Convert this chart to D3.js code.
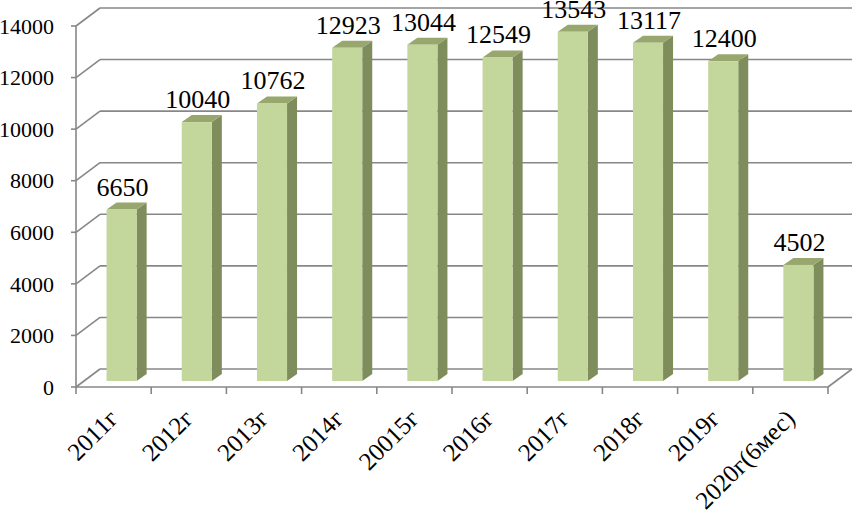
<!DOCTYPE html>
<html>
<head>
<meta charset="utf-8">
<script src="https://cdnjs.cloudflare.com/ajax/libs/d3/7.8.5/d3.min.js"></script>
<style>
  body { margin: 0; background: #fff; }
  svg { display: block; }
  svg text { font-family: 'Liberation Serif', 'DejaVu Serif', serif; }
</style>
</head>
<body>
<div id="chart"></div>
<script>
var categories = ['2011г', '2012г', '2013г', '2014г', '20015г', '2016г', '2017г', '2018г', '2019г', '2020г(6мес)'];
var values = [6650, 10040, 10762, 12923, 13044, 12549, 13543, 13117, 12400, 4502];
var yTicks = [0, 2000, 4000, 6000, 8000, 10000, 12000, 14000];

var chartW = 860, chartH = 517;
var plotLeft = 76, plotRight = 828, plotBottom = 387, plotTop = 26;
// 3d offsets: back wall, bar front plane, bar depth
var wallDx = 24, wallDy = -18;
var barDx = 8, barDy = -6;
var depthDx = 10, depthDy = -7;

var svg = d3.select('#chart').append('svg')
  .attr('width', chartW)
  .attr('height', chartH)
  .attr('font-family', 'Liberation Serif, serif');

var x = d3.scaleBand().domain(categories).range([plotLeft, plotRight]);
var y = d3.scaleLinear().domain([0, 14000]).range([plotBottom, plotTop]);

var gridColor = '#878787';

// back wall gridlines + diagonal side lines
var grid = svg.append('g');
yTicks.forEach(function (t) {
  grid.append('line')
    .attr('x1', plotLeft + wallDx).attr('x2', plotRight + wallDx)
    .attr('y1', y(t) + wallDy).attr('y2', y(t) + wallDy)
    .attr('stroke', gridColor).attr('stroke-width', 1.6);
  grid.append('line')
    .attr('x1', plotLeft).attr('x2', plotLeft + wallDx)
    .attr('y1', y(t)).attr('y2', y(t) + wallDy)
    .attr('stroke', gridColor).attr('stroke-width', 1.6);
});
// floor right edge
grid.append('line')
  .attr('x1', plotRight).attr('x2', plotRight + wallDx)
  .attr('y1', plotBottom).attr('y2', plotBottom + wallDy)
  .attr('stroke', gridColor).attr('stroke-width', 1.6);

// bars
var bw = x.bandwidth() * 0.4;
var bars = svg.append('g').selectAll('g').data(values).enter().append('g');
bars.each(function (v, i) {
  var g = d3.select(this);
  var x0 = x(categories[i]) + (x.bandwidth() - bw) / 2 + barDx;
  var x1 = x0 + bw;
  var yb = y(0) + barDy;
  var yt = y(v) + barDy;
  // side
  g.append('path')
    .attr('d', 'M' + x1 + ',' + yb + 'L' + (x1 + depthDx) + ',' + (yb + depthDy) +
      'L' + (x1 + depthDx) + ',' + (yt + depthDy) + 'L' + x1 + ',' + yt + 'Z')
    .attr('fill', '#7f8c5c');
  // top
  g.append('path')
    .attr('d', 'M' + x0 + ',' + yt + 'L' + (x0 + depthDx) + ',' + (yt + depthDy) +
      'L' + (x1 + depthDx) + ',' + (yt + depthDy) + 'L' + x1 + ',' + yt + 'Z')
    .attr('fill', '#98a76e');
  // front
  g.append('rect')
    .attr('x', x0).attr('y', yt)
    .attr('width', bw).attr('height', yb - yt)
    .attr('fill', '#c3d69b');
  // value label
  g.append('text')
    .attr('x', x0 + bw / 2 + 1)
    .attr('y', yt + depthDy - 7)
    .attr('text-anchor', 'middle')
    .attr('font-size', 26)
    .attr('fill', '#000')
    .text(v);
});

// front axes
var axisColor = '#878787';
svg.append('line')
  .attr('x1', plotLeft).attr('x2', plotLeft)
  .attr('y1', plotTop).attr('y2', plotBottom)
  .attr('stroke', axisColor).attr('stroke-width', 1.6);
svg.append('line')
  .attr('x1', plotLeft).attr('x2', plotRight)
  .attr('y1', plotBottom).attr('y2', plotBottom)
  .attr('stroke', axisColor).attr('stroke-width', 1.6);

// y ticks and labels
yTicks.forEach(function (t) {
  svg.append('line')
    .attr('x1', plotLeft - 5).attr('x2', plotLeft)
    .attr('y1', y(t)).attr('y2', y(t))
    .attr('stroke', axisColor).attr('stroke-width', 1.6);
  svg.append('text')
    .attr('x', 54).attr('y', y(t))
    .attr('dy', '0.35em')
    .attr('text-anchor', 'end')
    .attr('font-size', 22)
    .text(t);
});

// x ticks
var bounds = categories.map(function (c) { return x(c); }).concat([plotRight]);
bounds.forEach(function (bx) {
  svg.append('line')
    .attr('x1', bx).attr('x2', bx)
    .attr('y1', plotBottom).attr('y2', plotBottom + 7)
    .attr('stroke', axisColor).attr('stroke-width', 1.6);
});

// x labels rotated
categories.forEach(function (c) {
  var cx = x(c) + x.bandwidth() / 2 + 6;
  svg.append('text')
    .attr('transform', 'translate(' + cx + ',' + 420 + ') rotate(-45)')
    .attr('text-anchor', 'end')
    .attr('font-size', 25)
    .text(c);
});
</script>
</body>
</html>
